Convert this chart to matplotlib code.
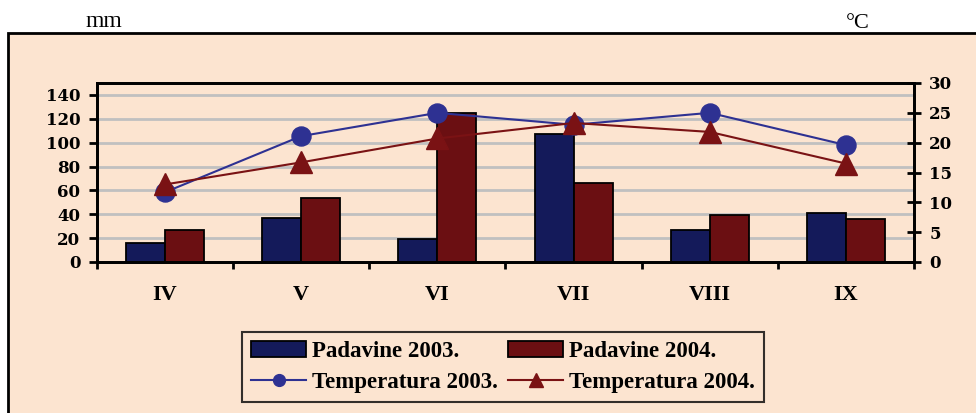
import matplotlib.pyplot as plt
import matplotlib.patches as mpatches
import numpy as np

months = ['IV', 'V', 'VI', 'VII', 'VIII', 'IX']
rain_2003 = [16, 37, 19, 107, 27, 41]
rain_2004 = [27, 54, 125, 66, 39, 36]
temp_2003 = [11.7, 21.1, 25.0, 23.0, 25.0, 19.6]
temp_2004 = [13.0, 16.7, 20.7, 23.3, 21.8, 16.5]

peach = '#FCE4D0'
navy = '#141A5A'
maroon = '#6B0F12'
blue_line = '#2E3192'
red_line = '#7A1214'

plt.rcParams['font.family'] = ['Liberation Serif', 'DejaVu Serif']
plt.rcParams['font.weight'] = 'bold'
tick_font = {'family': 'DejaVu Serif', 'weight': 'bold', 'size': 12}

fig = plt.figure(figsize=(9.76, 4.13), dpi=100)
fig.patch.set_facecolor('white')

# outer frame
frame = mpatches.Rectangle((8 / 976, -0.05), 1.2, 1 - 33 / 413 + 0.05,
                           transform=fig.transFigure, facecolor=peach,
                           edgecolor='black', linewidth=2, zorder=-10)
fig.patches.append(frame)

fig.text(85 / 976, 1 - 27 / 413, 'mm', fontsize=17, weight='normal', va='baseline')
fig.text(846 / 976, 1 - 28 / 413, '°C', fontsize=16, weight='normal', va='baseline')

ax = fig.add_axes([97 / 976, 1 - 262 / 413, (914 - 97) / 976, (262 - 83) / 413])
ax.set_facecolor('none')
x = np.arange(len(months))
w = 0.287
ax.bar(x - w / 2, rain_2003, w, color=navy, edgecolor='black', linewidth=1.3,
       label='Padavine 2003.', zorder=3)
ax.bar(x + w / 2, rain_2004, w, color=maroon, edgecolor='black', linewidth=1.3,
       label='Padavine 2004.', zorder=3)
ax.set_xlim(-0.5, len(months) - 0.5)
ax.set_ylim(0, 150)
ax.set_yticks(range(0, 141, 20))
ax.set_yticklabels([str(v) for v in range(0, 141, 20)], fontdict=tick_font)
ax.yaxis.grid(True, color='#C0C0C0', linewidth=2, zorder=0)
ax.set_axisbelow(True)
ax.set_xticks(np.arange(-0.5, len(months) - 0.4, 1))
ax.set_xticklabels([])
ax.set_xticks(x, minor=True)
ax.set_xticklabels(months, minor=True, fontsize=16, weight='bold')
ax.tick_params(axis='x', which='minor', length=0, pad=16.5)
ax.tick_params(axis='x', which='major', length=5, width=2, direction='out')
ax.tick_params(axis='y', length=6, width=2, direction='out', pad=6)
for s in ax.spines.values():
    s.set_linewidth(2)

ax2 = ax.twinx()
ax2.plot(x, temp_2003, color=blue_line, linewidth=1.5, marker='o',
         markersize=13.7, markerfacecolor=blue_line, markeredgecolor=blue_line,
         label='Temperatura 2003.', zorder=5)
ax2.plot(x, temp_2004, color=red_line, linewidth=1.5, marker='^',
         markersize=16.5, markerfacecolor=red_line, markeredgecolor=red_line,
         label='Temperatura 2004.', zorder=5)
ax2.set_ylim(0, 30)
ax2.set_yticks(range(0, 31, 5))
ax2.set_yticklabels([str(v) for v in range(0, 31, 5)], fontdict=tick_font)
ax2.tick_params(axis='y', length=10, width=2, direction='inout', pad=6)
for s in ax2.spines.values():
    s.set_linewidth(2)

h1, l1 = ax.get_legend_handles_labels()
h2, l2 = ax2.get_legend_handles_labels()
handles = [h1[0], h2[0], h1[1], h2[1]]
labels = [l1[0], l2[0], l1[1], l2[1]]
leg = fig.legend(handles, labels, ncol=2, loc='center',
                 bbox_to_anchor=(503 / 976, 1 - 367 / 413),
                 fontsize=16.5, frameon=True, fancybox=False,
                 edgecolor='black', facecolor=peach, handlelength=2.4,
                 handleheight=0.7, markerscale=0.62,
                 handletextpad=0.25, columnspacing=0.45, labelspacing=0.42,
                 borderpad=0.42, borderaxespad=0)
leg.get_frame().set_linewidth(1.5)
for t in leg.get_texts():
    t.set_weight('bold')

plt.savefig('out.png', dpi=100)
